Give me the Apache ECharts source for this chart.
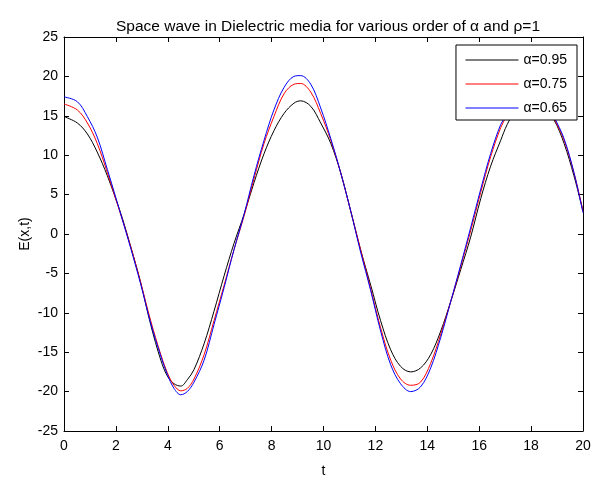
<!DOCTYPE html>
<html>
<head>
<meta charset="utf-8">
<script src="https://cdn.jsdelivr.net/npm/echarts@6/dist/echarts.min.js"></script>
<style>html,body{margin:0;padding:0;background:#fff}#c{width:598px;height:483px}</style>
</head>
<body>
<div id="c"></div>
<script>
const tValues = [0,0.51,0.90,1.28,1.67,1.99,2.25,2.57,2.95,3.34,3.73,3.98,4.24,4.50,4.75,5.01,5.40,5.78,6.17,6.55,6.94,7.32,7.71,8.09,8.48,8.86,9.12,9.51,9.89,10.28,10.66,11.05,11.43,11.82,12.20,12.59,12.97,13.36,13.74,14.13,14.52,14.90,15.29,15.67,16.06,16.44,16.83,17.08,17.47,17.98,18.50,18.88,19.27,19.65,20.0];
const alpha095 = [14.9,14.1,12.7,10.4,7.4,4.5,2.0,-1.6,-6.1,-11.5,-16.0,-18.0,-19.0,-19.3,-18.5,-17.2,-13.9,-9.8,-5.3,-1.2,2.5,6.5,10.2,13.1,15.3,16.6,16.9,16.2,14.1,11.5,7.8,2.9,-2.0,-6.5,-11.0,-14.7,-16.8,-17.5,-17.0,-15.3,-12.3,-8.6,-4.5,-0.4,4.5,8.6,11.9,13.9,16.0,16.9,16.0,14.5,11.5,7.4,2.9];
const alpha075 = [16.5,15.75,14.1,11.5,7.8,4.5,1.8,-1.6,-6.1,-11.0,-15.3,-17.6,-19.2,-19.9,-19.6,-18.4,-15.3,-11.0,-6.5,-2.0,2.3,7.0,11.5,14.9,17.8,19.0,19.1,18.0,15.3,11.9,7.8,2.9,-2.0,-7.0,-11.9,-16.0,-18.4,-19.2,-18.8,-16.4,-12.7,-8.6,-4.1,0.4,5.3,9.8,13.5,15.1,17.2,18.2,17.0,14.7,11.9,7.8,2.9];
const alpha065 = [17.4,16.8,14.9,12.3,8.2,4.7,1.8,-1.8,-6.3,-11.3,-15.5,-17.8,-19.6,-20.4,-20.0,-18.8,-16.0,-11.5,-6.8,-2.0,2.5,7.4,11.9,15.75,18.6,20.0,20.1,19.0,16.0,12.1,7.8,2.9,-2.3,-7.2,-12.3,-16.6,-19.0,-20.0,-19.4,-17.0,-13.1,-8.6,-3.9,0.8,5.7,10.2,13.9,15.3,17.8,18.8,17.4,14.9,12.1,7.8,2.7];
const seriesNames = ['\u03b1=0.95','\u03b1=0.75','\u03b1=0.65'];
const seriesColors = ['#000000','#ff0000','#0000ff'];
const titleText = 'Space wave in Dielectric media for various order of \u03b1 and \u03c1=1';
const xName = 't';
const yName = 'E(x,t)';

const FONT = 'Liberation Sans, Arial, Helvetica, sans-serif';
const chart = echarts.init(document.getElementById('c'));
const pair = vals => tValues.map((t,i)=>[t, vals[i]]);
const axisCommon = {
  axisLine:{show:true,onZero:false,lineStyle:{color:'#000',width:1}},
  axisTick:{show:true,inside:true,length:5,lineStyle:{color:'#000'}},
  splitLine:{show:false}
};
chart.setOption({
  animation:false,
  backgroundColor:'#fff',
  title:{text:titleText,left:323,top:14,textAlign:'center',
    textStyle:{fontFamily:FONT,fontSize:15.5,fontWeight:'normal',color:'#000'}},
  grid:{left:64,right:15,top:37,bottom:39,containLabel:false},
  legend:{
    orient:'vertical',right:21,top:45,
    data:seriesNames,
    itemWidth:53,itemHeight:14,itemGap:10,
    padding:[8,10,5,9],
    backgroundColor:'#fff',borderColor:'#000',borderWidth:1,
    itemStyle:{opacity:0},
    lineStyle:{width:1},
    textStyle:{fontFamily:FONT,fontSize:14,color:'#000'}
  },
  xAxis:[
    Object.assign({type:'value',min:0,max:20,interval:2,position:'bottom',
      name:xName,nameLocation:'middle',nameGap:33,nameMoveOverlap:false,
      nameTextStyle:{fontFamily:FONT,fontSize:14,color:'#000'},
      axisLabel:{fontFamily:FONT,fontSize:14,color:'#000',margin:8}},axisCommon),
    Object.assign({type:'value',min:0,max:20,interval:2,position:'top',
      axisLabel:{show:false}},axisCommon)
  ],
  yAxis:[
    Object.assign({type:'value',min:-25,max:25,interval:5,position:'left',
      name:yName,nameLocation:'middle',nameGap:32,nameMoveOverlap:false,
      nameTextStyle:{fontFamily:FONT,fontSize:14,color:'#000'},
      axisLabel:{fontFamily:FONT,fontSize:14,color:'#000',margin:6}},axisCommon),
    Object.assign({type:'value',min:-25,max:25,interval:5,position:'right',
      axisLabel:{show:false}},axisCommon)
  ],
  series:[alpha095,alpha075,alpha065].map((vals,i)=>({
    name:seriesNames[i],type:'line',data:pair(vals),
    xAxisIndex:0,yAxisIndex:0,
    symbol:'none',smooth:0.35,
    lineStyle:{color:seriesColors[i],width:1},
    itemStyle:{color:seriesColors[i]}
  }))
});
</script>
</body>
</html>
